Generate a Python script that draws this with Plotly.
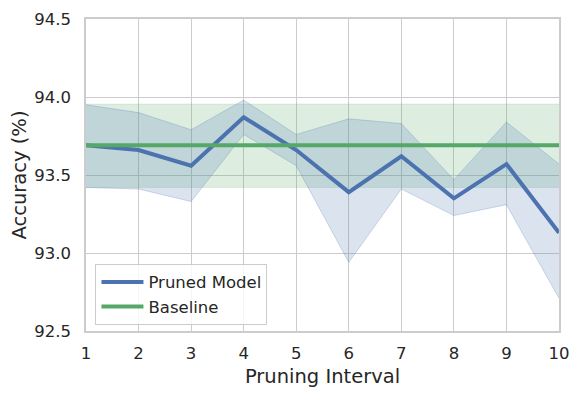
import plotly.graph_objects as go

# pruning interval
interval = [1, 2, 3, 4, 5, 6, 7, 8, 9, 10]

# pruned model accuracy (mean and spread)
pruned_mean = [93.69, 93.66, 93.56, 93.87, 93.66, 93.39, 93.62, 93.35, 93.57, 93.13]
pruned_upper = [93.95, 93.90, 93.79, 93.98, 93.76, 93.86, 93.83, 93.47, 93.84, 93.57]
pruned_lower = [93.42, 93.41, 93.33, 93.76, 93.56, 92.94, 93.41, 93.24, 93.31, 92.71]

# baseline accuracy
baseline_mean = [93.69] * 10
baseline_upper = [93.955] * 10
baseline_lower = [93.42] * 10

BLUE = "#4C72B0"
GREEN = "#55A868"

fig = go.Figure()

# baseline band
fig.add_trace(go.Scatter(x=interval, y=baseline_upper, mode="lines",
                         line=dict(color="rgba(85,168,104,0.15)", width=1),
                         showlegend=False, hoverinfo="skip"))
fig.add_trace(go.Scatter(x=interval, y=baseline_lower, mode="lines", fill="tonexty",
                         fillcolor="rgba(85,168,104,0.2)",
                         line=dict(color="rgba(85,168,104,0.15)", width=1),
                         showlegend=False, hoverinfo="skip"))

# pruned band
fig.add_trace(go.Scatter(x=interval, y=pruned_upper, mode="lines",
                         line=dict(color="rgba(76,114,176,0.25)", width=1),
                         showlegend=False, hoverinfo="skip"))
fig.add_trace(go.Scatter(x=interval, y=pruned_lower, mode="lines", fill="tonexty",
                         fillcolor="rgba(76,114,176,0.2)",
                         line=dict(color="rgba(76,114,176,0.25)", width=1),
                         showlegend=False, hoverinfo="skip"))

fig.add_trace(go.Scatter(x=interval, y=pruned_mean, mode="lines", name="Pruned Model",
                         line=dict(color=BLUE, width=4)))
fig.add_trace(go.Scatter(x=interval, y=baseline_mean, mode="lines", name="Baseline",
                         line=dict(color=GREEN, width=4)))

# the page body has an 8px margin, so the figure is drawn 8px smaller
fig.update_layout(
    width=573, height=389,
    margin=dict(l=78, r=22, t=11, b=66),
    paper_bgcolor="white", plot_bgcolor="white",
    font=dict(family="DejaVu Sans", size=16.5, color="#262626"),
    legend=dict(x=0.02, y=0.02, xanchor="left", yanchor="bottom", traceorder="normal",
                bgcolor="rgba(255,255,255,0.8)", bordercolor="#cccccc", borderwidth=1,
                font=dict(size=16.5), tracegroupgap=0, itemwidth=42),
)
fig.update_xaxes(
    range=[1, 10], tickvals=interval, ticktext=[str(i) for i in interval],
    showgrid=True, gridcolor="#cccccc", gridwidth=1.3, automargin=False,
    showline=True, linecolor="#cccccc", linewidth=1.5, mirror=True,
    zeroline=False, ticks="", tickfont=dict(size=16.5), ticklabelstandoff=6,
    title=dict(text="Pruning Interval", font=dict(size=19.5), standoff=8),
)
fig.update_yaxes(
    range=[92.5, 94.5], tickvals=[92.5, 93.0, 93.5, 94.0, 94.5], tickformat=".1f",
    showgrid=True, gridcolor="#cccccc", gridwidth=1.3, automargin=False,
    showline=True, linecolor="#cccccc", linewidth=1.5, mirror=True,
    zeroline=False, ticks="", tickfont=dict(size=16.5), ticklabelstandoff=10,
    title=dict(text="Accuracy (%)", font=dict(size=19.5), standoff=6),
)

fig.write_html("out.html")
